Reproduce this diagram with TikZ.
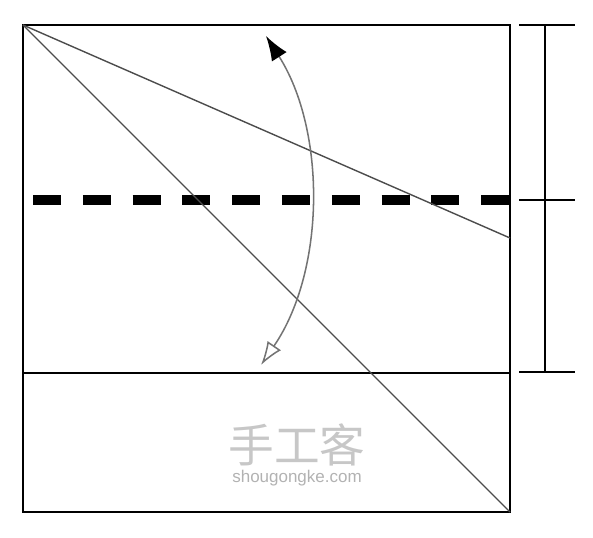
\documentclass[tikz,border=0pt]{standalone}
\usepackage{fontspec}
\setsansfont{Liberation Sans}
\newfontfamily\cjk{Noto Sans CJK SC}
\usetikzlibrary{arrows.meta}
\tikzset{
	edge/.style={line width=2.4pt, line cap=rect},
	crease/.style={line width=1.2pt, color=black!70},
	foldline/.style={line width=8.5pt, dash pattern=on 24pt off 18.5pt},
	turn/.style={line width=1.3pt, color=black!55},
	gauge/.style={line width=1.8pt},
}
\begin{document}
\begin{tikzpicture}[x=0.03cm, y=-0.03cm]
				\useasboundingbox (0,0) rectangle (593,538);
				\coordinate (tl) at (23,25);
				\coordinate (tr) at (510,25);
				\coordinate (br) at (510,512);
				\coordinate (bl) at (23,512);
				\coordinate (ml) at (23,373);
				\coordinate (mr) at (510,373);
				\coordinate (r1) at (510,238);
				\coordinate (d1) at (33,200);
				\coordinate (d2) at (510,200);
				%--
				\draw[edge] (tl) -- (tr) -- (br) -- (bl) -- cycle;
				\draw[edge] (ml) -- (mr);
				\draw[foldline] (d1) -- (d2);
				\draw[crease] (tl) -- (r1);
				\draw[crease] (tl) -- (br);
				%--
				\coordinate (a1) at (266,36);
				\coordinate (a2) at (261,365);
				\draw[turn, {Latex[length=21pt, width=15pt, black]}-{Latex[open, length=20pt, width=14pt]}]
					(a1) .. controls (326,130) and (326,270) .. (a2);
				%--
				\coordinate (b1) at (545,25);
				\coordinate (b2) at (545,200);
				\coordinate (b3) at (545,372);
				\draw[gauge] (b1) -- (b3);
				\draw[gauge] ([xshift=-22]b1) -- ([xshift=26]b1);
				\draw[gauge] ([xshift=-22]b2) -- ([xshift=26]b2);
				\draw[gauge] ([xshift=-22]b3) -- ([xshift=26]b3);
				%--
				\node[text=black!22, font=\cjk\fontsize{39}{39}\selectfont] (wm) at (297,445) {手工客};
				\node[text=black!30, font=\sffamily\fontsize{14.5}{14.5}\selectfont] (url) at (297,478) {shougongke.com};
			\end{tikzpicture}
\end{document}
